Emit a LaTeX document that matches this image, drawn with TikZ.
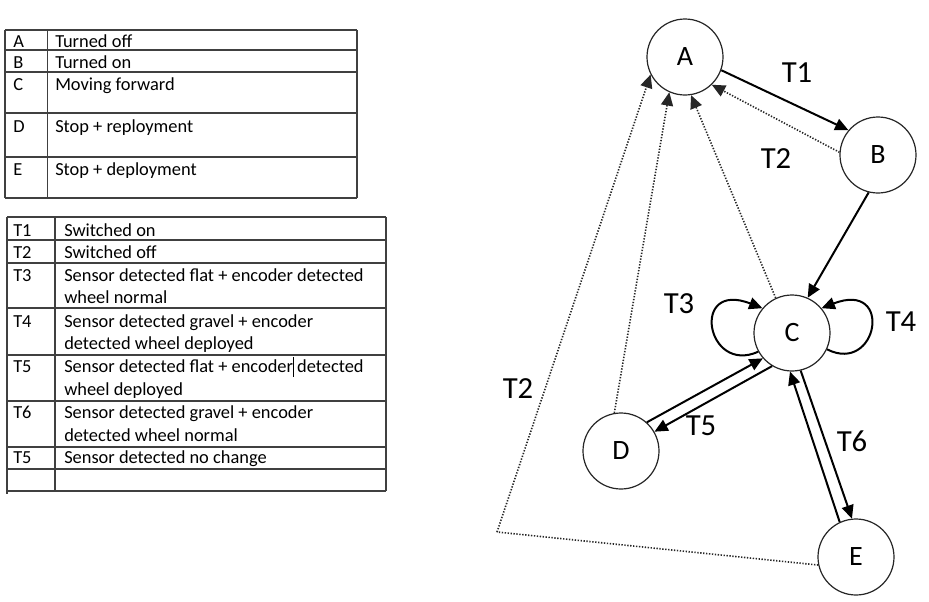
\documentclass[tikz,border=0pt]{standalone}
\usepackage{fontspec}
\setmainfont{Carlito}
\usetikzlibrary{arrows.meta}
\begin{document}
\begin{tikzpicture}[x=0.75pt,y=-0.75pt,
  tabline/.style={draw=black!75,line width=0.8pt},
  cell/.style={anchor=base west,inner sep=0pt,font=\fontsize{13.8}{15}\selectfont},
  state/.style={circle,draw=black!85,line width=0.9pt,minimum size=57pt,inner sep=0pt,font=\fontsize{21}{23}\selectfont},
  lab/.style={inner sep=0pt,font=\fontsize{23}{25}\selectfont},
  tip/.style={-{Triangle[length=10pt,width=9pt]}},
  solidarrow/.style={tip,line width=1.5pt,black},
  dotarrow/.style={tip,line width=1.2pt,black!85,dash pattern=on 1pt off 1.2pt},
  dotline/.style={line width=1.2pt,black!85,dash pattern=on 1pt off 1.2pt}]
\useasboundingbox (0,0) rectangle (929,601);
\fill[white] (0,0) rectangle (929,601);

% ---------- table 1 ----------
\foreach \y in {30,50,72,113,157,198} \draw[tabline] (5,\y) -- (357,\y);
\draw[tabline] (5,30) -- (5,198);
\draw[tabline] (47.5,30) -- (47.5,198);
\draw[tabline] (357,30) -- (357,198);
\node[cell] (sa) at (13,47) {A};
\node[cell] (sb) at (13,68) {B};
\node[cell] (sc) at (13,90) {C};
\node[cell] (sd) at (13,132) {D};
\node[cell] (se) at (13,175) {E};
\node[cell] (da) at (55,47) {Turned off};
\node[cell] (db) at (55,68) {Turned on};
\node[cell] (dc) at (55,90) {Moving forward};
\node[cell] (dd) at (55,132) {Stop + reployment};
\node[cell] (de) at (55,175) {Stop + deployment};

% ---------- table 2 ----------
\foreach \y in {217,240,263,308,355,401,447,469,491} \draw[tabline] (7,\y) -- (386,\y);
\draw[tabline] (7,217) -- (7,494);
\draw[tabline] (55,217) -- (55,491);
\draw[tabline] (386,217) -- (386,491);
\node[cell] (t1) at (13,236) {T1};
\node[cell] (t2) at (13,258) {T2};
\node[cell] (t3) at (13,281) {T3};
\node[cell] (t4) at (13,327) {T4};
\node[cell] (t5) at (13,372) {T5};
\node[cell] (t6) at (13,418) {T6};
\node[cell] (t7) at (13,463) {T5};
\node[cell] (u1) at (64,236) {Switched on};
\node[cell] (u2) at (64,258) {Switched off};
\node[cell] (u3a) at (64,281) {Sensor detected flat + encoder detected};
\node[cell] (u3b) at (64,303) {wheel normal};
\node[cell] (u4a) at (64,327) {Sensor detected gravel + encoder};
\node[cell] (u4b) at (64,349) {detected wheel deployed};
\node[cell] (u5a) at (64,372) {Sensor detected flat + encoder detected};
\node[cell] (u5b) at (64,395) {wheel deployed};
\node[cell] (u6a) at (64,418) {Sensor detected gravel + encoder};
\node[cell] (u6b) at (64,441) {detected wheel normal};
\node[cell] (u7) at (64,463) {Sensor detected no change};
\draw[black,line width=0.5pt] (293,357) -- (293,377);

% ---------- state diagram ----------
\node[state] (A) at (685,57) {A};
\node[state] (B) at (878,155) {B};
\node[state] (C) at (792,333) {C};
\node[state] (D) at (621,451) {D};
\node[state] (E) at (856,557) {E};
\coordinate (K) at (497,532);

\draw[solidarrow] (A.-20) -- (B.140);
\draw[dotarrow] (B.176) -- (A.-46);
\draw[solidarrow] (B.-104) -- (C.66);
\draw[dotarrow] (C.115) -- (A.-81);
\draw[dotarrow] (D.100) -- (A.-114);
\draw[dotline] (E.-168) -- (K);
\draw[dotarrow] (K) -- (A.-153);
\draw[solidarrow] (D.48) -- (C.221);
\draw[solidarrow] (C.239) -- (D.30);
\draw[solidarrow] (C.-77) -- (E.96);
\draw[solidarrow] (E.115) -- (C.267);
\draw[solidarrow] (C.209) .. controls (706,375) and (690,280) .. (C.140);
\draw[solidarrow] (C.-25) .. controls (878,375) and (894,280) .. (C.40);

\node[lab] (l1) at (797,73) {T1};
\node[lab] (l2) at (776,159) {T2};
\node[lab] (l3) at (679,304) {T3};
\node[lab] (l4) at (901,322) {T4};
\node[lab] (l5) at (701,426) {T5};
\node[lab] (l6) at (852,441) {T6};
\node[lab] (l7) at (518,389) {T2};
\end{tikzpicture}
\end{document}
